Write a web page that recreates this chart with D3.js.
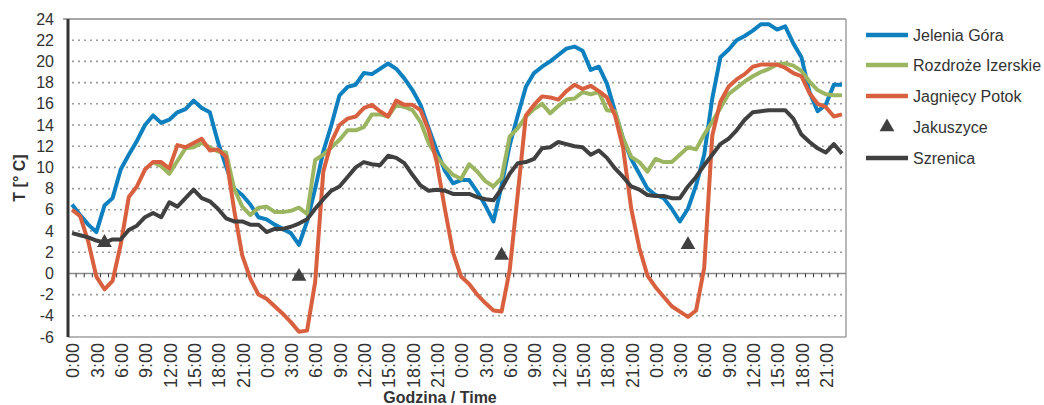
<!DOCTYPE html>
<html>
<head>
<meta charset="utf-8">
<script src="https://cdn.jsdelivr.net/npm/d3@7"></script>
<style>
  body { margin: 0; background: #fff; }
  text { font-family: "Liberation Sans", Arial, sans-serif; fill: #333; }
</style>
</head>
<body>
<svg id="chart" width="1044" height="405"></svg>
<script>
// hourly readings, 4 days x 24 h
var tickLabels = ["0:00","3:00","6:00","9:00","12:00","15:00","18:00","21:00",
                  "0:00","3:00","6:00","9:00","12:00","15:00","18:00","21:00",
                  "0:00","3:00","6:00","9:00","12:00","15:00","18:00","21:00",
                  "0:00","3:00","6:00","9:00","12:00","15:00","18:00","21:00"];
var yTicks = [-6,-4,-2,0,2,4,6,8,10,12,14,16,18,20,22,24];

var jeleniaGora = [
  6.5, 5.5, 4.6, 3.9, 6.4, 7.1, 9.8, 11.2, 12.5, 14.0, 14.9, 14.2, 14.5, 15.2, 15.5, 16.3, 15.6, 15.2, 12.4, 10.1, 8.0, 7.4, 6.5, 5.3,
  5.1, 4.6, 4.2, 3.8, 2.7, 4.9, 8.0, 11.5, 14.0, 16.8, 17.6, 17.8, 18.9, 18.8, 19.3, 19.8, 19.3, 18.4, 17.3, 15.9, 13.7, 11.6, 9.7, 8.5,
  8.8, 8.8, 7.7, 6.4, 4.9, 8.3, 12.1, 14.9, 17.6, 18.9, 19.5, 20.0, 20.6, 21.2, 21.4, 21.0, 19.2, 19.5, 17.9, 15.3, 12.7, 10.8, 9.4, 8.0,
  7.4, 7.1, 6.1, 4.9, 6.1, 8.3, 11.2, 16.5, 20.4, 21.1, 22.0, 22.4, 22.9, 23.5, 23.5, 23.0, 23.3, 21.7, 20.4, 17.1, 15.3, 15.9, 17.8, 17.8
];
var rozdrozeIzerskie = [
  null, null, null, null, null, null, null, null, null, null, 10.5, 10.1, 9.4, 10.6, 11.8, 11.9, 12.3, 11.9, 11.5, 11.4, 8.0, 6.3, 5.5, 6.2,
  6.3, 5.8, 5.8, 5.9, 6.2, 5.6, 10.7, 11.2, 11.9, 12.6, 13.5, 13.5, 13.8, 15.0, 15.0, 14.8, 15.9, 15.7, 15.4, 14.3, 12.3, 11.0, 10.1, 9.3,
  8.9, 10.3, 9.6, 8.7, 8.2, 9.0, 12.9, 13.7, 14.8, 15.5, 16.0, 15.1, 15.8, 16.4, 16.5, 17.1, 16.9, 17.1, 15.4, 15.3, 12.7, 11.0, 10.5, 9.6,
  10.8, 10.5, 10.5, 11.2, 11.9, 11.7, 13.1, 14.3, 15.6, 16.9, 17.5, 18.1, 18.6, 19.0, 19.3, 19.7, 19.8, 19.6, 19.1, 18.1, 17.3, 16.9, 16.8, 16.8
];
var jagniecyPotok = [
  6.0, 5.4, 3.0, -0.3, -1.5, -0.7, 2.7, 7.2, 8.2, 9.8, 10.5, 10.5, 9.9, 12.1, 11.9, 12.3, 12.7, 11.6, 11.7, 11.0, 6.0, 1.7, -0.5, -2.0,
  -2.4, -3.1, -3.8, -4.6, -5.5, -5.4, -0.8, 9.6, 12.4, 14.0, 14.6, 14.8, 15.6, 15.9, 15.3, 14.8, 16.3, 15.9, 15.9, 15.4, 13.5, 10.5, 6.1, 2.0,
  -0.3, -1.0, -2.0, -2.8, -3.5, -3.6, 0.3, 7.5, 14.9, 15.9, 16.7, 16.6, 16.4, 17.2, 17.8, 17.4, 17.7, 17.2, 16.6, 14.9, 11.8, 6.1, 2.4, -0.2,
  -1.3, -2.2, -3.1, -3.6, -4.1, -3.5, 0.5, 13.0, 16.2, 17.6, 18.3, 18.8, 19.5, 19.7, 19.7, 19.7, 19.4, 18.9, 18.6, 17.0, 16.0, 15.7, 14.8, 15.0
];
var szrenica = [
  3.8, 3.6, 3.4, 3.1, 2.9, 3.2, 3.2, 4.1, 4.5, 5.3, 5.7, 5.3, 6.7, 6.3, 7.1, 7.9, 7.1, 6.8, 6.1, 5.2, 4.9, 4.9, 4.6, 4.6,
  3.9, 4.2, 4.2, 4.4, 4.7, 5.1, 6.1, 7.0, 7.8, 8.2, 9.1, 10.0, 10.5, 10.3, 10.2, 11.1, 10.9, 10.4, 9.3, 8.3, 7.8, 7.9, 7.8, 7.5,
  7.5, 7.5, 7.2, 7.0, 6.9, 8.0, 9.4, 10.4, 10.5, 10.8, 11.8, 11.9, 12.4, 12.2, 12.0, 11.9, 11.2, 11.6, 10.9, 9.9, 9.1, 8.2, 7.9, 7.4,
  7.3, 7.3, 7.1, 7.1, 8.2, 9.1, 10.2, 11.2, 12.2, 12.7, 13.5, 14.5, 15.2, 15.3, 15.4, 15.4, 15.4, 14.6, 13.1, 12.4, 11.8, 11.4, 12.2, 11.3
];
// Jakuszyce: only one reading a day
var jakuszyceHour = [4, 28, 53, 76];
var jakuszyceVal = [2.9, -0.3, 1.7, 2.7];

var series = [
  {name: "Jelenia Góra", values: jeleniaGora, color: "#0e80bf"},
  {name: "Rozdroże Izerskie", values: rozdrozeIzerskie, color: "#9bb561"},
  {name: "Jagnięcy Potok", values: jagniecyPotok, color: "#d9603f"},
  {name: "Jakuszyce", values: null, color: "#404040"},
  {name: "Szrenica", values: szrenica, color: "#404040"}
];

var svg = d3.select("#chart");
var plotLeft = 68, plotRight = 846, plotTop = 19, plotBottom = 337;

var x = d3.scaleBand()
  .domain(d3.range(jeleniaGora.length))
  .range([plotLeft, plotRight]);
var y = d3.scaleLinear()
  .domain([-6, 24])
  .range([plotBottom, plotTop]);
var cx = function(i) { return x(i) + x.bandwidth() / 2; };

// grid
svg.append("g").selectAll("line")
  .data(yTicks.filter(function(d) { return d != 0 && d != 24 && d != -6; }))
  .enter().append("line")
  .attr("x1", plotLeft + 4).attr("x2", plotRight)
  .attr("y1", function(d) { return y(d); })
  .attr("y2", function(d) { return y(d); })
  .attr("stroke", "#9a9a9a")
  .attr("stroke-width", 1.6)
  .attr("stroke-dasharray", "2,4");

// frame
svg.append("line").attr("x1", plotLeft - 5).attr("x2", plotRight).attr("y1", y(24)).attr("y2", y(24))
  .attr("stroke", "#8c8c8c").attr("stroke-width", 1.5);
svg.append("line").attr("x1", plotRight).attr("x2", plotRight).attr("y1", y(24)).attr("y2", y(-6))
  .attr("stroke", "#a0a0a0").attr("stroke-width", 1.5);
svg.append("line").attr("x1", plotLeft).attr("x2", plotRight).attr("y1", y(-6)).attr("y2", y(-6))
  .attr("stroke", "#a0a0a0").attr("stroke-width", 1.5);

// zero line with hour ticks
svg.append("line").attr("x1", plotLeft).attr("x2", plotRight).attr("y1", y(0)).attr("y2", y(0))
  .attr("stroke", "#8c8c8c").attr("stroke-width", 1.5);
svg.append("g").selectAll("line")
  .data(d3.range(1, jeleniaGora.length))
  .enter().append("line")
  .attr("x1", function(d) { return x(d); })
  .attr("x2", function(d) { return x(d); })
  .attr("y1", y(0)).attr("y2", y(0) + 4)
  .attr("stroke", "#333").attr("stroke-width", 1);

// y axis
svg.append("line").attr("x1", plotLeft).attr("x2", plotLeft).attr("y1", y(24)).attr("y2", y(-6))
  .attr("stroke", "#333").attr("stroke-width", 3);
svg.append("g").selectAll("text")
  .data(yTicks)
  .enter().append("text")
  .attr("x", 54)
  .attr("y", function(d) { return y(d); })
  .attr("dy", "0.35em")
  .attr("text-anchor", "end")
  .style("font-size", "16px")
  .text(function(d) { return d; });

// x labels every 3 hours, at the bottom
svg.append("g").selectAll("text")
  .data(tickLabels)
  .enter().append("text")
  .attr("transform", function(d, i) { return "translate(" + (cx(i * 3) + 1) + "," + (plotBottom + 6) + ") rotate(-90)"; })
  .attr("dy", "0.35em")
  .attr("text-anchor", "end")
  .style("font-size", "18px")
  .text(function(d) { return d; });

svg.append("text").text("Godzina / Time")
  .attr("x", 440).attr("y", 403)
  .attr("text-anchor", "middle")
  .style("font-size", "16px").style("font-weight", "bold");
svg.append("text").text("T [° C]")
  .attr("transform", "translate(25,178) rotate(-90)")
  .attr("text-anchor", "middle")
  .style("font-size", "16px").style("font-weight", "bold");

// lines
var line = d3.line()
  .defined(function(d) { return d != null; })
  .x(function(d, i) { return cx(i); })
  .y(function(d) { return y(d); });

series.forEach(function(s) {
  if (!s.values) return;
  svg.append("path")
    .datum(s.values)
    .attr("fill", "none")
    .attr("stroke", s.color)
    .attr("stroke-width", 4)
    .attr("stroke-linejoin", "round")
    .attr("d", line);
});

var tri = d3.symbol().type(d3.symbolTriangle).size(95);
svg.append("g").selectAll("path")
  .data(jakuszyceVal)
  .enter().append("path")
  .attr("d", tri)
  .attr("fill", "#404040")
  .attr("transform", function(d, i) { return "translate(" + cx(jakuszyceHour[i]) + "," + y(d) + ")"; });

// legend
var legend = svg.append("g").selectAll("g")
  .data(series)
  .enter().append("g")
  .attr("transform", function(d, i) { return "translate(866," + [35, 65, 96, 127, 158][i] + ")"; });
legend.filter(function(d) { return d.values; })
  .append("line")
  .attr("x1", 0).attr("x2", 42)
  .attr("stroke", function(d) { return d.color; })
  .attr("stroke-width", 4.5);
legend.filter(function(d) { return !d.values; })
  .append("path")
  .attr("d", tri)
  .attr("fill", "#404040")
  .attr("transform", "translate(21,0)");
legend.append("text")
  .attr("x", 47).attr("dy", "0.35em")
  .style("font-size", "16px")
  .text(function(d) { return d.name; });
</script>
</body>
</html>
